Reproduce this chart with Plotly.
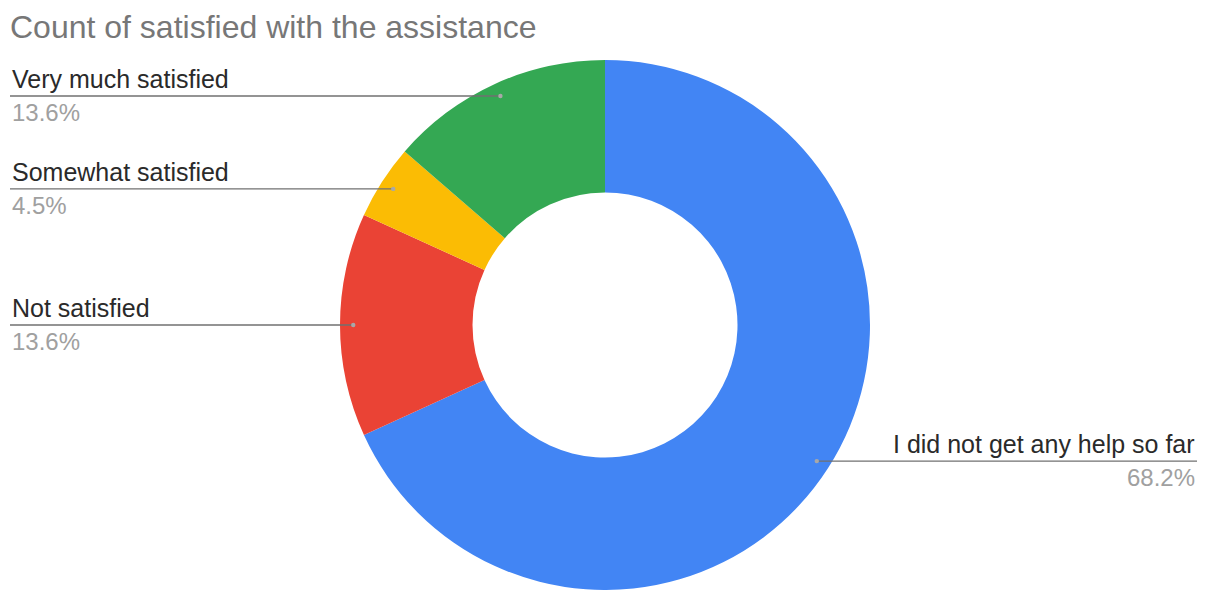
import math
import plotly.graph_objects as go

# Survey responses (counts) and their display order around the ring
categories = [
    "I did not get any help so far",
    "Not satisfied",
    "Somewhat satisfied",
    "Very much satisfied",
]
counts = [15, 3, 1, 3]
colors = ["#4285F4", "#EA4335", "#FBBC04", "#34A853"]

W, H = 1206, 590
CX, CY, R = 605, 325, 265          # ring centre and outer radius in pixels
LEFT_X, RIGHT_X = 10, 1197          # text margins for the outside labels
FONT = "Arial, Liberation Sans, sans-serif"

fig = go.Figure(
    go.Pie(
        labels=categories,
        values=counts,
        marker=dict(colors=colors, line=dict(width=0)),
        hole=0.5,
        sort=False,
        direction="clockwise",
        rotation=0,
        textinfo="none",
        hoverinfo="label+percent",
        showlegend=False,
        domain=dict(
            x=[(CX - R) / W, (CX + R) / W],
            y=[(H - CY - R) / H, (H - CY + R) / H],
        ),
    )
)


def px(x):
    return x / W


def py(y):
    return 1 - y / H


total = sum(counts)
shapes, annotations = [], []
start = 0.0
for name, val in zip(categories, counts):
    frac = val / total
    mid = (start + frac / 2) * 2 * math.pi   # clockwise from 12 o'clock
    start += frac
    dx = CX + 0.95 * R * math.sin(mid)
    dy = CY - 0.95 * R * math.cos(mid)
    right_side = math.sin(mid) > 0
    x0, x1 = (dx, RIGHT_X) if right_side else (LEFT_X, dx)
    shapes.append(dict(
        type="line", xref="paper", yref="paper",
        x0=px(x0), x1=px(x1), y0=py(dy), y1=py(dy),
        line=dict(color="#707070", width=1.3),
    ))
    shapes.append(dict(
        type="circle", xref="paper", yref="paper",
        x0=px(dx - 2.2), x1=px(dx + 2.2), y0=py(dy - 2.2), y1=py(dy + 2.2),
        fillcolor="#a8a8a8", line=dict(width=0),
    ))
    tx = RIGHT_X if right_side else LEFT_X
    anchor = "right" if right_side else "left"
    annotations.append(dict(
        xref="paper", yref="paper", x=px(tx), y=py(dy - 1),
        xanchor=anchor, yanchor="bottom", showarrow=False,
        text=name, font=dict(family=FONT, size=25, color="#2a2a2a"),
    ))
    annotations.append(dict(
        xref="paper", yref="paper", x=px(tx), y=py(dy + 1),
        xanchor=anchor, yanchor="top", showarrow=False,
        text=f"{100 * frac:.1f}%", font=dict(family=FONT, size=24, color="#a0a0a0"),
    ))

fig.update_layout(
    width=W, height=H,
    margin=dict(l=0, r=0, t=0, b=0),
    paper_bgcolor="white", plot_bgcolor="white",
    title=dict(
        text="Count of satisfied with the assistance",
        x=px(LEFT_X), xanchor="left", xref="paper",
        y=py(27), yanchor="middle", yref="paper",
        font=dict(family=FONT, size=32, color="#777777"),
    ),
    shapes=shapes,
    annotations=annotations,
)

fig.write_html("out.html")
